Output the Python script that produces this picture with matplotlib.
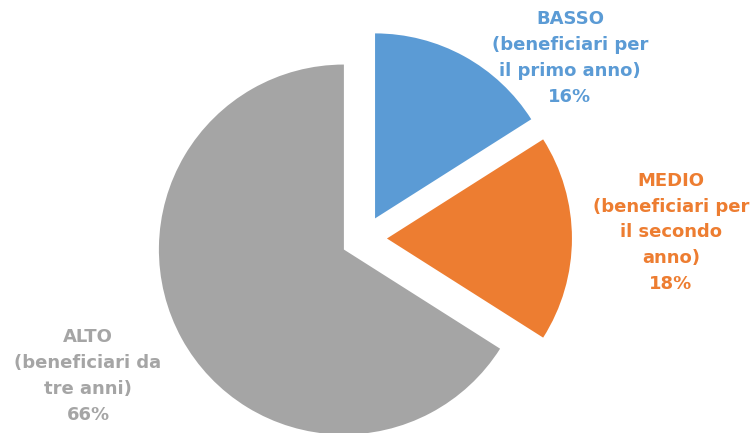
import matplotlib
matplotlib.use("Agg")
import matplotlib.pyplot as plt

# chart data
CATEGORIES = ["BASSO\n(beneficiari per\nil primo anno)",
              "MEDIO\n(beneficiari per\nil secondo\nanno)",
              "ALTO\n(beneficiari da\ntre anni)"]
SHARES = [16, 18, 66]
COLORS = ["#5B9BD5", "#ED7D31", "#A5A5A5"]

W, H = 751, 433
CX, CY, R = 364, 238.5, 185  # pie centre / radius in pixels (from top-left)

# label block centres in pixels (from top-left)
LABEL_POS = [(570, 58), (671, 232.5), (88, 376)]


def px_to_data(px, py):
    return (px - CX) / R, (CY - py) / R


fig = plt.figure(figsize=(W / 100, H / 100), dpi=100)
ax = fig.add_axes([0, 0, 1, 1])
ax.pie(SHARES, colors=COLORS, startangle=90, counterclock=False,
       explode=[0.124] * len(SHARES), radius=1,
       wedgeprops=dict(linewidth=0))
ax.set_aspect("auto")
ax.set_xlim(-CX / R, (W - CX) / R)
ax.set_ylim(-(H - CY) / R, CY / R)
ax.axis("off")

for cat, share, col, (px, py) in zip(CATEGORIES, SHARES, COLORS, LABEL_POS):
    x, y = px_to_data(px, py)
    ax.text(x, y, f"{cat}\n{share}%", color=col, ha="center", va="center",
            multialignment="center", fontsize=13, fontweight="bold",
            family="DejaVu Sans", linespacing=1.55)

fig.savefig("out.png", dpi=100)
